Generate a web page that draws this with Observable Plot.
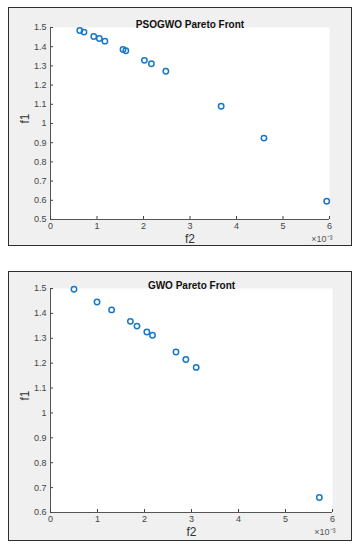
<!DOCTYPE html>
<html><head><meta charset="utf-8">
<script src="https://cdn.jsdelivr.net/npm/d3@7"></script>
<script src="https://cdn.jsdelivr.net/npm/@observablehq/plot@0.6"></script>
<style>
body{margin:0;background:#fff;}
#wrap{position:relative;width:362px;height:550px;font-family:"Liberation Sans",Arial,sans-serif;}
.box{position:absolute;box-sizing:border-box;border:1.5px solid #2e2e2e;background:#f0f0f0;}
.chart{position:absolute;left:0;}
</style></head><body>
<div id="wrap">
<div class="box" style="left:8px;top:7px;width:344px;height:239px"></div>
<div class="box" style="left:8px;top:271px;width:344px;height:270px"></div>
<div class="chart" id="c1" style="top:0"></div>
<div class="chart" id="c2" style="top:260px"></div>
</div>
<script>
// x axis values are in units of 1e-3
const xTicks = [0, 1, 2, 3, 4, 5, 6];
const psoTitle = "PSOGWO Pareto Front";
const pso_f2 = [0.63, 0.72, 0.93, 1.05, 1.17, 1.56, 1.62, 2.02, 2.17, 2.48, 3.67, 4.59, 5.94];
const pso_f1 = [1.484, 1.476, 1.453, 1.443, 1.429, 1.386, 1.379, 1.329, 1.311, 1.272, 1.090, 0.924, 0.595];
const psoYTicks = [0.5, 0.6, 0.7, 0.8, 0.9, 1, 1.1, 1.2, 1.3, 1.4, 1.5];

const gwoTitle = "GWO Pareto Front";
const gwo_f2 = [0.50, 0.99, 1.30, 1.70, 1.84, 2.05, 2.17, 2.67, 2.88, 3.10, 5.72];
const gwo_f1 = [1.497, 1.446, 1.414, 1.368, 1.349, 1.325, 1.312, 1.245, 1.215, 1.183, 0.660];
const gwoYTicks = [0.6, 0.7, 0.8, 0.9, 1, 1.1, 1.2, 1.3, 1.4, 1.5];

const xLabel = "f2";
const yLabel = "f1";
const expLabel = "×10⁻³";

function panel({title, f2, f1, yTicks, height, mt, mb, mr}) {
  const yDom = [yTicks[0], yTicks[yTicks.length - 1]];
  return Plot.plot({
    width: 362, height,
    marginLeft: 50, marginRight: mr, marginTop: mt, marginBottom: mb,
    style: {background: "transparent", overflow: "visible", fontFamily: "'Liberation Sans', Arial, sans-serif"},
    x: {domain: [0, 6]},
    y: {domain: yDom},
    marks: [
      Plot.frame({fill: "white", stroke: "none"}),
      Plot.ruleX([0], {stroke: "#555", strokeWidth: 1}),
      Plot.ruleY([yDom[0]], {stroke: "#555", strokeWidth: 1}),
      Plot.axisX(xTicks, {tickSize: -3, tickPadding: 6, fontSize: 9, color: "#444", label: null}),
      Plot.axisY(yTicks, {tickSize: -3, tickPadding: 7, fontSize: 9, color: "#444", label: null, tickFormat: d => String(d)}),
      Plot.dot(f1, {x: f2, y: f1, r: 2.7, stroke: "#1878c8", strokeWidth: 1.5, fill: "none"}),
      Plot.text([title], {frameAnchor: "top", dy: -7, fontWeight: "bold", fontSize: 10, fill: "#111"}),
      Plot.text([xLabel], {frameAnchor: "bottom", lineAnchor: "top", dy: 15, fontSize: 12, fill: "#333"}),
      Plot.text([yLabel], {frameAnchor: "left", dx: -25, rotate: -90, fontSize: 12, fill: "#333"}),
      Plot.text([expLabel], {frameAnchor: "bottom-right", textAnchor: "end", lineAnchor: "top", dx: 3, dy: 16, fontSize: 9, fill: "#555"})
    ]
  });
}

document.getElementById("c1").appendChild(panel({title: psoTitle, f2: pso_f2, f1: pso_f1, yTicks: psoYTicks, height: 250, mt: 27, mb: 31, mr: 33}));
document.getElementById("c2").appendChild(panel({title: gwoTitle, f2: gwo_f2, f1: gwo_f1, yTicks: gwoYTicks, height: 290, mt: 28, mb: 38, mr: 30}));
</script>
</body></html>
